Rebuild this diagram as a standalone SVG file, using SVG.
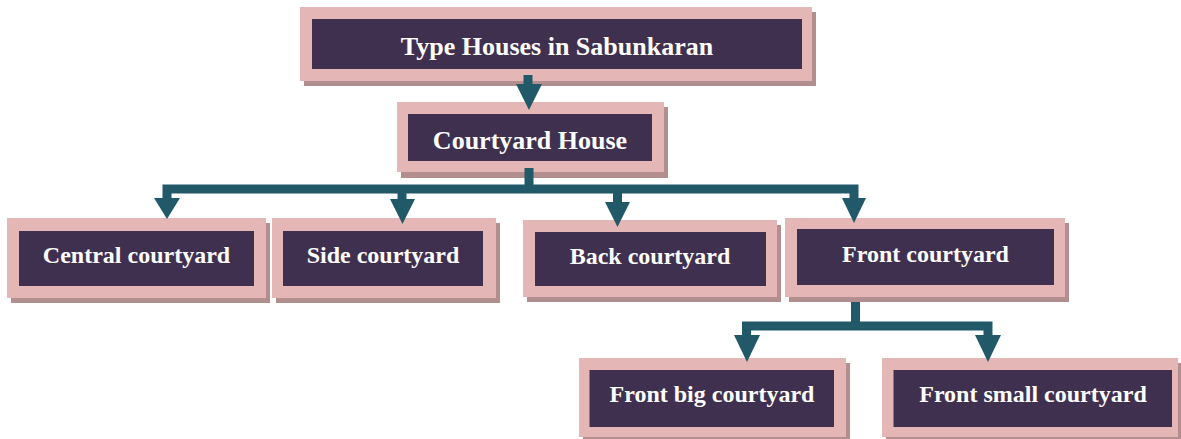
<svg xmlns="http://www.w3.org/2000/svg" width="1181" height="439" viewBox="0 0 1181 439">
  <style>
    .shadow { fill: #B38E8E; }
    .frame { fill: #E4B6B6; }
    .panel { fill: #40304F; }
    .label { fill: #FFFFFF; font-family: "Liberation Serif", "Times New Roman", serif; font-weight: bold; text-anchor: middle; }
    .big { font-size: 26px; }
    .small { font-size: 24px; }
    .wire { fill: none; stroke: #215968; stroke-width: 9; stroke-linejoin: miter; }
    .head { fill: #215968; }
  </style>

  <!-- Level 0 -->
  <g id="node-type-houses">
    <rect class="shadow" x="304" y="12" width="512" height="74"/>
    <rect class="frame" x="300" y="7" width="512" height="74"/>
    <rect class="panel" x="312" y="19" width="490" height="50"/>
    <text class="label big" x="557" y="55">Type Houses in Sabunkaran</text>
  </g>

  <!-- Level 1 -->
  <g id="node-courtyard-house">
    <rect class="shadow" x="401" y="107" width="267" height="71"/>
    <rect class="frame" x="397" y="102" width="267" height="70"/>
    <rect class="panel" x="408" y="114" width="244" height="47"/>
    <text class="label big" x="530" y="149">Courtyard House</text>
  </g>

  <!-- Level 2 -->
  <g id="node-central">
    <rect class="shadow" x="11" y="223" width="259" height="80"/>
    <rect class="frame" x="7" y="218" width="259" height="80"/>
    <rect class="panel" x="19" y="231" width="235" height="55"/>
    <text class="label small" x="136.5" y="263">Central courtyard</text>
  </g>

  <g id="node-side">
    <rect class="shadow" x="276" y="223" width="224" height="80"/>
    <rect class="frame" x="272" y="218" width="224" height="80"/>
    <rect class="panel" x="283" y="231" width="200" height="55"/>
    <text class="label small" x="383" y="263">Side courtyard</text>
  </g>

  <g id="node-back">
    <rect class="shadow" x="527" y="225" width="254" height="77"/>
    <rect class="frame" x="523" y="220" width="254" height="77"/>
    <rect class="panel" x="535" y="232" width="231" height="54"/>
    <text class="label small" x="650" y="264">Back courtyard</text>
  </g>

  <g id="node-front">
    <rect class="shadow" x="789" y="223" width="280" height="79"/>
    <rect class="frame" x="785" y="218" width="280" height="79"/>
    <rect class="panel" x="797" y="229" width="257" height="56"/>
    <text class="label small" x="925.5" y="262">Front courtyard</text>
  </g>

  <!-- Level 3 -->
  <g id="node-front-big">
    <rect class="shadow" x="583" y="363" width="267" height="79"/>
    <rect class="frame" x="579" y="358" width="267" height="79"/>
    <rect class="panel" x="589.5" y="370" width="244.5" height="57"/>
    <text class="label small" x="712" y="402">Front big courtyard</text>
  </g>

  <g id="node-front-small">
    <rect class="shadow" x="886" y="363" width="296" height="79"/>
    <rect class="frame" x="882" y="358" width="296" height="79"/>
    <rect class="panel" x="893.5" y="370" width="278.5" height="57"/>
    <text class="label small" x="1033" y="402">Front small courtyard</text>
  </g>

  <!-- Connectors -->
  <g id="connectors">
    <!-- Type Houses -> Courtyard House -->
    <path class="wire" d="M528 75 V88"/>
    <polygon class="head" points="516,84 542,84 529,110"/>

    <!-- Courtyard House -> four courtyard types -->
    <path class="wire" d="M529 168 V189"/>
    <path class="wire" d="M167 201 V189 H854 V201"/>
    <path class="wire" d="M402 189 V202"/>
    <path class="wire" d="M617.5 189 V205"/>
    <polygon class="head" points="154,198 180,198 167,219"/>
    <polygon class="head" points="390,199 415,199 402.5,224"/>
    <polygon class="head" points="605,202 630,202 617.5,227"/>
    <polygon class="head" points="842,198 866,198 854,223"/>

    <!-- Front courtyard -> big / small -->
    <path class="wire" d="M855.5 302 V326"/>
    <path class="wire" d="M746.5 338 V326 H988 V338"/>
    <polygon class="head" points="734,335 760,335 747,362"/>
    <polygon class="head" points="975,335 1001,335 988,362"/>
  </g>
</svg>
